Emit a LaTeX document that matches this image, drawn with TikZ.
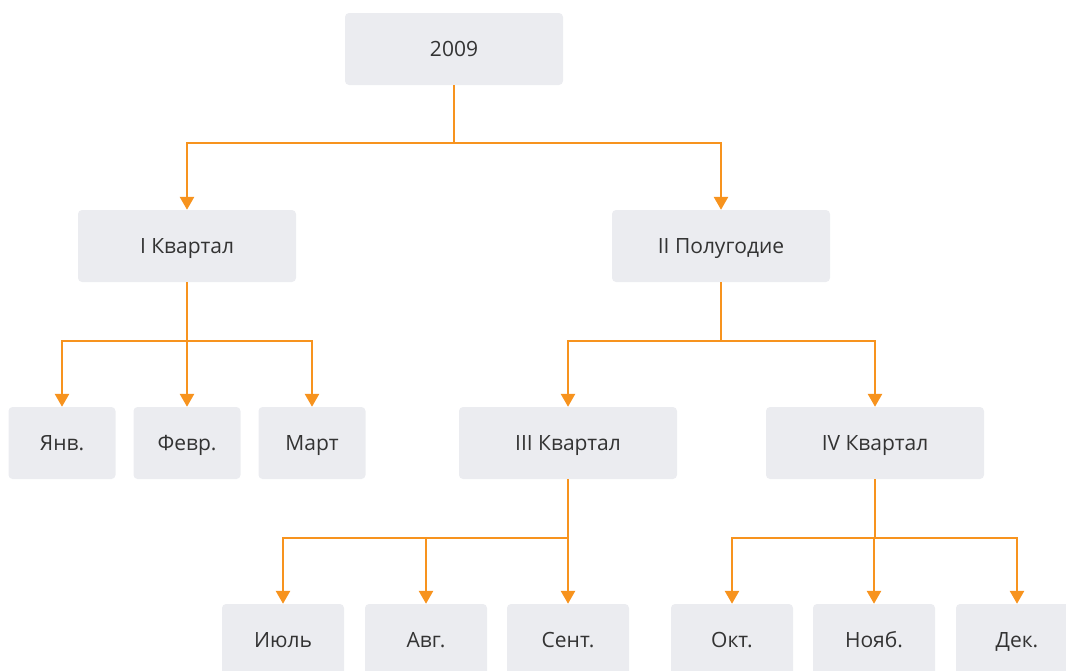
\documentclass[tikz,border=0pt]{standalone}
\usepackage{fontspec}
\setmainfont{Open Sans}
\usetikzlibrary{arrows.meta}
\definecolor{boxfill}{HTML}{EBECF0}
\definecolor{lineor}{HTML}{F7931E}
\definecolor{txt}{HTML}{333333}
\begin{document}
\begin{tikzpicture}[x=1pt,y=-1pt,
  box/.style={fill=boxfill, rounded corners=4pt, inner sep=0pt, anchor=center, text=txt, font=\fontsize{21}{24}\selectfont, text height=15pt, text depth=0pt},
  wide/.style={box, minimum width=218pt, minimum height=72pt},
  small/.style={box, minimum width=107pt, minimum height=72pt},
  leaf/.style={box, minimum width=122pt, minimum height=72pt},
  conn/.style={draw=lineor, line width=2.6pt},
  arr/.style={conn, -{Triangle[length=13pt,width=14pt]}}]
\useasboundingbox (0,0) rectangle (1066,670);
\clip (0,0) rectangle (1066,670);
\node[wide] (y) at (454,49) {2009};
\node[wide] (q1) at (187,246) {I Квартал};
\node[wide] (h2) at (721,246) {II Полугодие};
\node[small] (jan) at (62,443) {Янв.};
\node[small] (feb) at (187,443) {Февр.};
\node[small] (mar) at (312,443) {Март};
\node[wide] (q3) at (568,443) {III Квартал};
\node[wide] (q4) at (875,443) {IV Квартал};
\node[leaf] (jul) at (283,640) {Июль};
\node[leaf] (aug) at (426,640) {Авг.};
\node[leaf] (sep) at (568,640) {Сент.};
\node[leaf] (oct) at (732,640) {Окт.};
\node[leaf] (nov) at (874,640) {Нояб.};
\node[leaf] (dec) at (1017,640) {Дек.};
% junctions
\coordinate (jy) at (454,143);
\coordinate (j1) at (187,341);
\coordinate (j2) at (721,341);
\coordinate (j3) at (568,538);
\coordinate (j4) at (875,538);
\draw[conn] (y.south) -- (jy);
\draw[arr] (jy) -| (q1.north);
\draw[arr] (jy) -| (h2.north);
\draw[conn] (q1.south) -- (j1);
\draw[arr] (j1) -| (jan.north);
\draw[arr] (j1) -- (feb.north);
\draw[arr] (j1) -| (mar.north);
\draw[conn] (h2.south) -- (j2);
\draw[arr] (j2) -| (q3.north);
\draw[arr] (j2) -| (q4.north);
\draw[conn] (q3.south) -- (j3);
\draw[arr] (j3) -| (jul.north);
\draw[arr] (j3) -| (aug.north);
\draw[arr] (j3) -- (sep.north);
\draw[conn] (q4.south) -- (j4);
\draw[arr] (j4) -| (oct.north);
\draw[arr] (j4) -| (nov.north);
\draw[arr] (j4) -| (dec.north);
\end{tikzpicture}
\end{document}
